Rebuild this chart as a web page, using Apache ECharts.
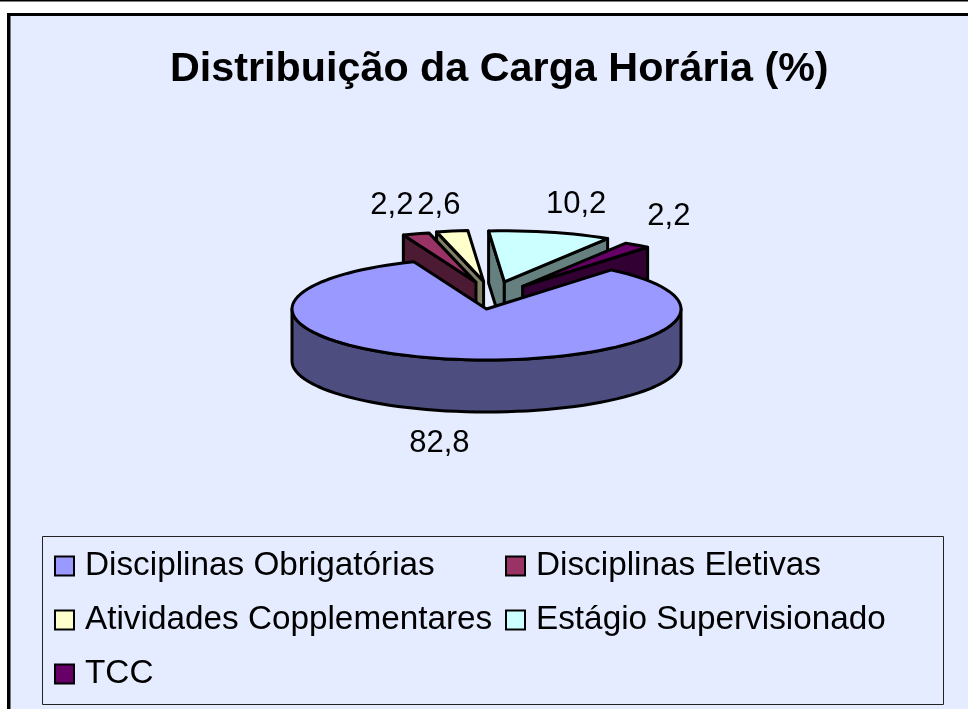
<!DOCTYPE html>
<html>
<head>
<meta charset="utf-8">
<style>
  html, body { margin: 0; padding: 0; background: #fff; }
  #chart { width: 968px; height: 709px; }
</style>
<script src="https://cdn.jsdelivr.net/npm/echarts@6/dist/echarts.min.js"></script>
</head>
<body>
<div id="chart"></div>
<script>
var titleText = 'Distribuição da Carga Horária (%)'
var categories = ['Disciplinas Obrigatórias', 'Disciplinas Eletivas', 'Atividades Copplementares', 'Estágio Supervisionado', 'TCC']
var values = [82.8, 2.2, 2.6, 10.2, 2.2]

var topColors = ['#9999FF', '#993366', '#FFFFCC', '#CCFFFF', '#660066']
var sideColors = ['#4D4D80', '#4D1A33', '#808066', '#668080', '#330033']
var paintOrder = [7, 4, 3, 5, 6] // back to front, main slice last
var exploded = [0, 1, 1, 1, 1]
var labelRx = [300, 307, 294, 378, 310]
var labelRy = [136, 109, 105, 108, 114]

var fontName = '"Liberation Sans", Arial, sans-serif'
var slideColor = '#E6ECFF'
var cx = 486.5
var cy = 309
var rx = 194.5
var ry = 51
var depth = 52
var startAngle = 40
var explodeX = 52
var explodeY = 28
var explodeBias = 5.5

var total = values.reduce(function(a, b) { return a + b }, 0)

function rimPoint(c, deg, drop) {
  var rad = deg * Math.PI / 180
  return [c[0] + rx * Math.sin(rad), c[1] - ry * Math.cos(rad) + (drop || 0)]
}

function arcPoints(c, from, to, drop) {
  var pts = []
  var n = Math.max(2, Math.ceil((to - from) / 3))
  for (var k = 0; k <= n; k++) {
    pts.push(rimPoint(c, from + (to - from) * k / n, drop))
  }
  return pts
}

function facePoly(points, fill) {
  return {
    type: 'polygon',
    shape: { points: points },
    style: { fill: fill, stroke: '#000', lineWidth: 3, lineJoin: 'round' }
  }
}

function makeRenderItem(i) {
  return function(params, api) {
    var value = api.value(0)
    var before = 0
    for (var j = 0; j < i; j++) before += values[j]
    var a0 = startAngle + before / total * 360
    var a1 = a0 + value / total * 360
    var mid = (a0 + a1) / 2
    var midRad = mid * Math.PI / 180
    var c = [cx, cy]
    if (exploded[i]) {
      c = [cx + explodeBias + explodeX * Math.sin(midRad), cy - explodeY * Math.cos(midRad)]
    }
    var apexLow = [c[0], c[1] + depth]
    var kids = []
    // radial walls that face the viewer
    if (Math.sin(a0 * Math.PI / 180) < 0) {
      kids.push(facePoly([rimPoint(c, a0), c, apexLow, rimPoint(c, a0, depth)], sideColors[i]))
    }
    if (Math.sin(a1 * Math.PI / 180) > 0) {
      kids.push(facePoly([rimPoint(c, a1), c, apexLow, rimPoint(c, a1, depth)], sideColors[i]))
    }
    // front part of the rim
    var f0 = Math.max(a0, 90)
    var f1 = Math.min(a1, 270)
    if (f1 > f0) {
      kids.push(facePoly(arcPoints(c, f0, f1).concat(arcPoints(c, f0, f1, depth).reverse()), sideColors[i]))
    }
    kids.push(facePoly([c].concat(arcPoints(c, a0, a1)), topColors[i]))
    kids.push({
      type: 'text',
      z2: 10,
      style: {
        x: cx + labelRx[i] * Math.sin(midRad),
        y: cy - labelRy[i] * Math.cos(midRad),
        text: String(value).replace('.', ','),
        fill: '#000',
        font: '31px ' + fontName,
        align: 'center',
        verticalAlign: 'middle'
      }
    })
    return { type: 'group', children: kids }
  }
}

var series = categories.map(function(name, i) {
  return {
    name: name,
    type: 'custom',
    coordinateSystem: 'none',
    z: paintOrder[i],
    silent: true,
    itemStyle: { color: topColors[i] },
    renderItem: makeRenderItem(i),
    data: [[values[i]]]
  }
})

function legendColumn(left, names) {
  return {
    left: left,
    top: 549,
    orient: 'vertical',
    padding: 0,
    icon: 'rect',
    itemWidth: 19,
    itemHeight: 19,
    itemGap: 20,
    selectedMode: false,
    itemStyle: { borderColor: '#000', borderWidth: 2 },
    textStyle: { color: '#000', fontFamily: fontName, fontSize: 33.3, lineHeight: 30, padding: [0, 0, 4, 6] },
    data: names
  }
}

var chart = echarts.init(document.getElementById('chart'))
chart.setOption({
  backgroundColor: '#fff',
  animation: false,
  title: {
    text: titleText,
    left: 170,
    top: 49,
    padding: 0,
    textStyle: { color: '#000', fontFamily: fontName, fontSize: 41.3, fontWeight: 'bold' }
  },
  legend: [
    legendColumn(54, [categories[0], categories[2], categories[4]]),
    legendColumn(505, [categories[1], categories[3]])
  ],
  graphic: [
    { type: 'rect', z: -10, silent: true, shape: { x: 0, y: 0, width: 968, height: 1.5 }, style: { fill: '#000' } },
    { type: 'rect', z: -10, silent: true, shape: { x: 7, y: 13, width: 961, height: 696 }, style: { fill: '#000' } },
    { type: 'rect', z: -9, silent: true, shape: { x: 10.5, y: 16, width: 958, height: 693 }, style: { fill: slideColor } },
    { type: 'rect', z: -8, silent: true, shape: { x: 42.5, y: 536.5, width: 901, height: 168 }, style: { fill: slideColor, stroke: '#222', lineWidth: 1 } }
  ],
  series: series
})
</script>
</body>
</html>
